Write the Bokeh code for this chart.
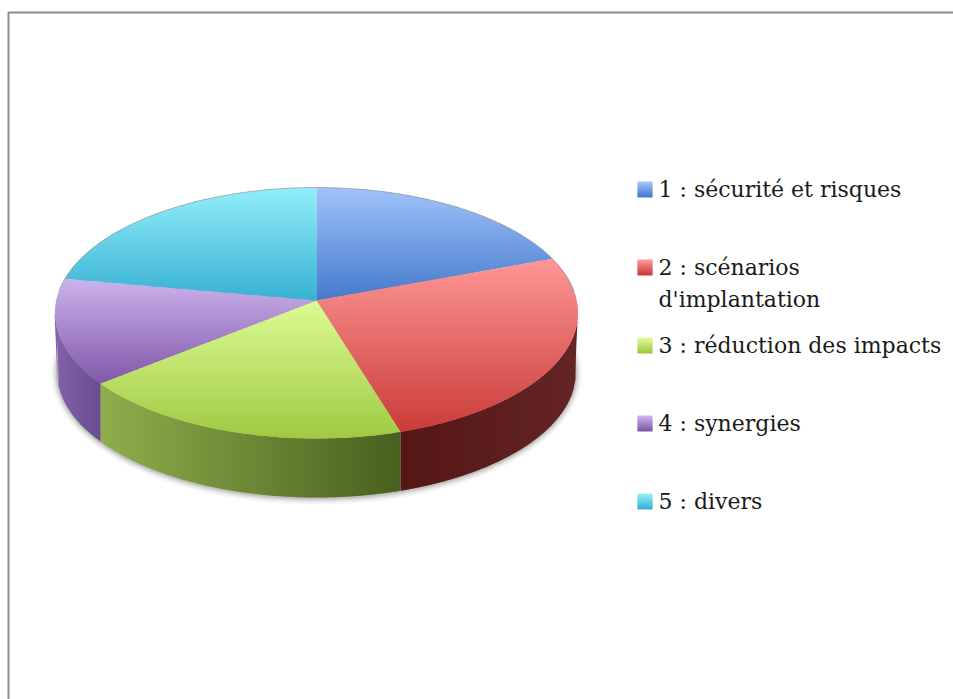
import numpy as np
from bokeh.plotting import figure
from bokeh.embed import file_html
from bokeh.resources import INLINE
from bokeh.core.properties import value
from bokeh.models import Range1d

# ---- data
categories = ["1 : sécurité et risques", "2 : scénarios\nd'implantation",
              "3 : réduction des impacts", "4 : synergies", "5 : divers"]
shares = [17.9, 26.9, 20.7, 13.9, 20.6]
face_top = ["#9fc2fb", "#fd9695", "#dcfb93", "#cbb2ec", "#92eefb"]
face_bottom = ["#4479c9", "#c93b38", "#9fc943", "#8057a8", "#37b1d2"]
wall_left = ["#3a6aa8", "#551616", "#8fae4b", "#8263a9", "#30a0c0"]
wall_right = ["#3a6aa8", "#642525", "#48601f", "#6a4a90", "#30a0c0"]

# ---- geometry, in page pixels
W, H = 953, 699
CX, CY, RX, RY = 316.0, 312.5, 261.5, 125.5
APEX_Y = 300.0
BX, BCY, BRY = 259.5, 371.5, 125.5
STEP = 2
OVERLAP = 1.0


def hex2rgb(c):
    return np.array([int(c[i:i + 2], 16) for i in (1, 3, 5)], float)


def mix(a, b, t):
    t = min(max(t, 0.0), 1.0)
    v = hex2rgb(a) * (1 - t) + hex2rgb(b) * t
    return "#%02x%02x%02x" % tuple(int(round(x)) for x in v)


def rim(angles, rx=RX, ry=RY, cy=CY):
    r = np.radians(angles)
    return CX + rx * np.sin(r), cy - ry * np.cos(r)


def lower_edge(x, rx, ry, cy):
    return cy + ry * np.sqrt(np.clip(1 - ((x - CX) / rx) ** 2, 0, 1))


def clip(poly, y0, y1):
    def half(pts, lim, keep_below):
        out = []
        n = len(pts)
        for i in range(n):
            a, b = pts[i], pts[(i + 1) % n]
            ina = a[1] >= lim if keep_below else a[1] <= lim
            inb = b[1] >= lim if keep_below else b[1] <= lim
            if ina:
                out.append(a)
            if ina != inb:
                t = (lim - a[1]) / (b[1] - a[1])
                out.append((a[0] + t * (b[0] - a[0]), lim))
        return out
    pts = half(poly, y0, True)
    return half(pts, y1, False) if pts else pts


p = figure(width=W, height=H, output_backend="svg", toolbar_location=None,
           x_range=Range1d(0, W), y_range=Range1d(H, 0),
           min_border=0, outline_line_color=None, x_axis_type=None, y_axis_type=None)
p.grid.visible = False

# frame
p.line([W, 8, 8], [12, 12, H], line_color="#8c8c8c", line_width=2)

# soft shadow round the lower disc
full = np.arange(0, 361, 3.0)
for grow, alpha in [(6, 0.05), (4, 0.07), (2.5, 0.10), (1, 0.14)]:
    sx, sy = rim(full, BX + grow, BRY + grow, BCY + 1)
    p.patch(sx, sy, fill_color="#404040", fill_alpha=alpha, line_color=None)

edges = np.concatenate([[0], np.cumsum(shares)]) / sum(shares) * 360.0

# walls: front half of the rim only, in overlapping columns, shaded left to right
wx, wy, wc = [], [], []
for i in range(len(shares)):
    lo, hi = max(edges[i], 90.0), min(edges[i + 1], 270.0)
    if hi <= lo:
        continue
    xs_ends = rim(np.array([lo, hi]))[0]
    xa, xb = int(round(xs_ends.min())), int(round(xs_ends.max()))
    for x0 in range(xa, xb, STEP):
        x1 = min(x0 + STEP + OVERLAP, xb)
        cols = np.array([x0, x1], float)
        top = lower_edge(cols, RX, RY, CY)
        bot = np.where(np.abs(cols - CX) < BX, lower_edge(cols, BX, BRY, BCY), top)
        wx.append([cols[0], cols[1], cols[1], cols[0]])
        wy.append([top[0], top[1], bot[1], bot[0]])
        wc.append(mix(wall_left[i], wall_right[i], (x0 - xa) / (xb - xa)))
p.patches(wx, wy, fill_color=wc, line_color=None)

# top faces: vertical gradient as overlapping bands
fx, fy, fc = [], [], []
for i in range(len(shares)):
    ang = np.arange(edges[i], edges[i + 1], 1.0)
    ang = np.append(ang, edges[i + 1])
    rx_, ry_ = rim(ang)
    poly = [(CX, APEX_Y)] + list(zip(rx_, ry_))
    ys = [q[1] for q in poly]
    top, bot = min(ys), max(ys)
    for y in range(int(np.floor(top)), int(np.ceil(bot)), STEP):
        c = clip(poly, float(y), float(y + STEP + OVERLAP))
        if len(c) >= 3:
            fx.append([q[0] for q in c])
            fy.append([q[1] for q in c])
            fc.append(mix(face_top[i], face_bottom[i], (y - top) / (bot - top)))
p.patches(fx, fy, fill_color=fc, line_color=None)

# thin grey edge on the back of the disc
bx, by = rim(np.arange(-80, 81, 2.0))
p.line(bx, by, line_color="#8a8a8a", line_width=1, line_alpha=0.6)

# legend
SW_X, SW_SIZE, TXT_X = 637, 16, 658.0
SW_Y = [181 + 78 * i for i in range(len(categories))]
TEXT_DY, LINE_H = 8.0, 32.0
lx, ly, lc = [], [], []
tx, ty, tt = [], [], []
for i, lab in enumerate(categories):
    for j in range(0, SW_SIZE, 2):
        y = SW_Y[i] + j
        y1 = min(y + 2 + OVERLAP, SW_Y[i] + SW_SIZE)
        lx.append([SW_X, SW_X + SW_SIZE - 1, SW_X + SW_SIZE - 1, SW_X])
        ly.append([y, y, y1, y1])
        lc.append(mix(face_top[i], face_bottom[i], j / (SW_SIZE - 2)))
    for j, part in enumerate(lab.split("\n")):
        tx.append(TXT_X)
        ty.append(SW_Y[i] + TEXT_DY + j * LINE_H)
        tt.append(part)
p.patches(lx, ly, fill_color=lc, line_color=None)
p.text(tx, ty, text=tt, text_font=value("DejaVu Serif"), text_font_size="22px",
       text_color="#1a1a1a", text_align="left", text_baseline="middle")

open("out.html", "w").write(file_html(p, INLINE))
